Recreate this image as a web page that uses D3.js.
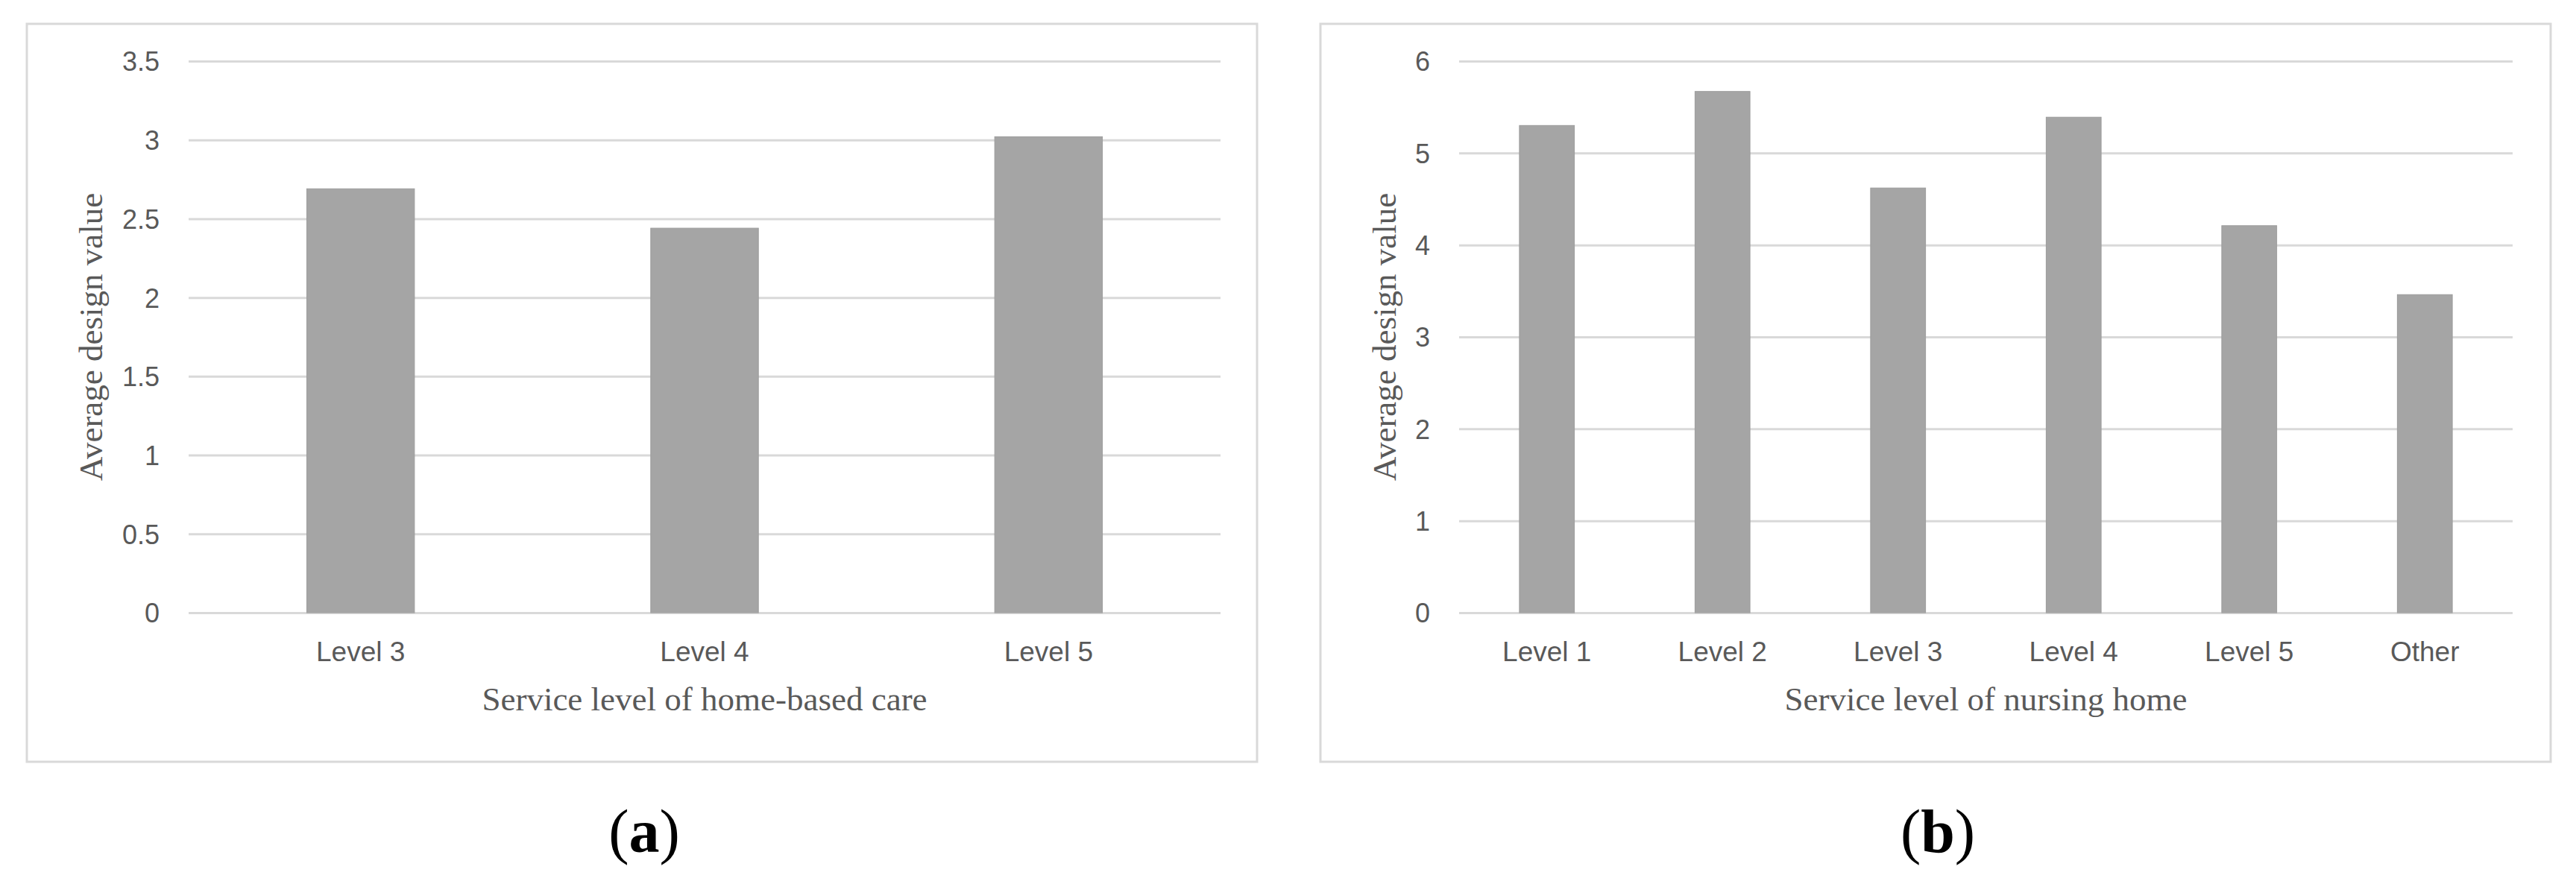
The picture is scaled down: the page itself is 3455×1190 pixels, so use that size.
<!DOCTYPE html>
<html>
<head>
<meta charset="utf-8">
<script src="https://cdn.jsdelivr.net/npm/d3@7"></script>
<style>
  html, body { margin: 0; padding: 0; background: #ffffff; }
  svg { display: block; }
</style>
</head>
<body>
<svg id="chart" width="3455" height="1190"></svg>
<script>
// ---------- data ----------
const categoriesA = ["Level 3", "Level 4", "Level 5"];
const valuesA = [2.69, 2.44, 3.02];
const ticksA = [0, 0.5, 1, 1.5, 2, 2.5, 3, 3.5];
const xTitleA = "Service level of home-based care";

const categoriesB = ["Level 1", "Level 2", "Level 3", "Level 4", "Level 5", "Other"];
const valuesB = [5.30, 5.67, 4.62, 5.39, 4.21, 3.46];
const ticksB = [0, 1, 2, 3, 4, 5, 6];
const xTitleB = "Service level of nursing home";

const yTitle = "Average design value";
const panelLetters = ["a", "b"];

// ---------- layout ----------
const svg = d3.select("#chart");
const SANS = "'Liberation Sans', Arial, sans-serif";
const SERIF = "'Liberation Serif', 'Times New Roman', serif";
const GRID = "#d9d9d9";
const TEXT = "#595959";
const BAR = "#a5a5a5";

const panels = [
  { cats: categoriesA, vals: valuesA, ticks: ticksA, xTitle: xTitleA, letter: panelLetters[0],
    box: [36, 32, 1686, 1022], plot: [253, 82, 1637, 822] },
  { cats: categoriesB, vals: valuesB, ticks: ticksB, xTitle: xTitleB, letter: panelLetters[1],
    box: [1771, 32, 3421, 1022], plot: [1957, 82, 3370, 822] }
];

panels.forEach(p => {
  const [bx0, by0, bx1, by1] = p.box;
  const [px0, py0, px1, py1] = p.plot;

  // outer frame
  svg.append("rect")
    .attr("x", bx0).attr("y", by0)
    .attr("width", bx1 - bx0).attr("height", by1 - by0)
    .attr("fill", "#fff").attr("stroke", GRID).attr("stroke-width", 3);

  const x = d3.scaleBand().domain(p.cats).range([px0, px1])
    .paddingInner(0.687).paddingOuter(0.3435);
  const y = d3.scaleLinear().domain([0, d3.max(p.ticks)]).range([py1, py0]);

  // y axis with gridlines
  const yAxis = d3.axisLeft(y).tickValues(p.ticks)
    .tickSize(-(px1 - px0)).tickPadding(39)
    .tickFormat(d3.format("~g"));
  const gy = svg.append("g").attr("transform", `translate(${px0},0)`).call(yAxis);
  gy.select(".domain").remove();
  gy.selectAll(".tick line").attr("stroke", GRID).attr("stroke-width", 3);
  gy.selectAll(".tick text")
    .attr("fill", TEXT).attr("font-family", SANS).attr("font-size", 36)
    .attr("dy", "0.36em");

  // bars
  svg.append("g").selectAll("rect").data(p.vals).join("rect")
    .attr("x", (d, i) => x(p.cats[i]))
    .attr("width", x.bandwidth())
    .attr("y", d => y(d))
    .attr("height", d => y(0) - y(d))
    .attr("fill", BAR)
    .attr("stroke", "#9c9c9c").attr("stroke-width", 1);

  // x axis (labels only)
  const xAxis = d3.axisBottom(x).tickSize(0).tickPadding(0);
  const gx = svg.append("g").attr("transform", `translate(0,${py1})`).call(xAxis);
  gx.select(".domain").remove();
  gx.selectAll(".tick text")
    .attr("fill", TEXT).attr("font-family", SANS).attr("font-size", 37)
    .attr("y", 65).attr("dy", 0);

  // x title
  svg.append("text")
    .attr("x", (px0 + px1) / 2).attr("y", 953)
    .attr("text-anchor", "middle")
    .attr("font-family", SERIF).attr("font-size", 45).attr("fill", TEXT)
    .text(p.xTitle);

  // y title
  const tx = bx0 + 101, ty = (py0 + py1) / 2;
  svg.append("text")
    .attr("transform", `translate(${tx},${ty}) rotate(-90)`)
    .attr("text-anchor", "middle")
    .attr("font-family", SERIF).attr("font-size", 45).attr("fill", TEXT)
    .text(yTitle);

  // panel letter
  const lt = svg.append("text")
    .attr("x", (bx0 + bx1) / 2 + 3).attr("y", 1143)
    .attr("text-anchor", "middle")
    .attr("font-family", SERIF).attr("font-size", 82).attr("fill", "#000");
  lt.append("tspan").text("(");
  lt.append("tspan").attr("font-weight", "bold").text(p.letter);
  lt.append("tspan").text(")");
});
</script>
</body>
</html>
